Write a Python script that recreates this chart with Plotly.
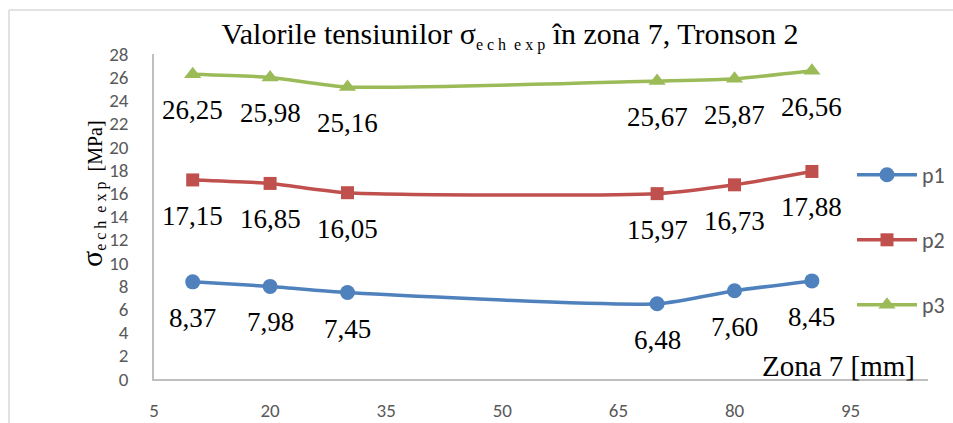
import plotly.graph_objects as go

x_mm = [10, 20, 30, 70, 80, 90]
p1 = [8.37, 7.98, 7.45, 6.48, 7.60, 8.45]
p2 = [17.15, 16.85, 16.05, 15.97, 16.73, 17.88]
p3 = [26.25, 25.98, 25.16, 25.67, 25.87, 26.56]
series_names = ["p1", "p2", "p3"]
series_colors = ["#4F81BD", "#C0504D", "#9BBB59"]
series_symbols = ["circle", "square", "triangle-up"]
x_ticks = [5, 20, 35, 50, 65, 80, 95]
y_ticks = list(range(0, 29, 2))

L, R, T, B = 154, 25, 54, 44
W, H = 953, 423
pw, ph = W - L - R, H - T - B

serif = "Liberation Serif, Times New Roman, serif"
sans = "Liberation Sans Narrow, Carlito, Liberation Sans, Arial, sans-serif"
sub_txt = "e&nbsp;c&nbsp;h&nbsp;&nbsp;e&nbsp;x&nbsp;p"

fig = go.Figure()
legend_ypx = [175, 240, 305]
for i, (name, vals) in enumerate(zip(series_names, [p1, p2, p3])):
    lg = "legend" if i == 0 else f"legend{i+1}"
    fig.add_trace(go.Scatter(
        x=x_mm, y=vals, name=name, mode="lines+markers",
        line=dict(color=series_colors[i], width=3.5, shape="spline", smoothing=0.6),
        marker=dict(symbol=series_symbols[i], size=15 if i != 1 else 13, color=series_colors[i]),
        legend=lg, cliponaxis=False,
    ))
    for xv, yv in zip(x_mm, vals):
        fig.add_annotation(x=xv, y=yv, text=f"{yv:.2f}".replace(".", ","), showarrow=False,
                           xanchor="center", yanchor="middle",
                           yshift=-36, font=dict(family=serif, size=27, color="#000000"))

legend_layouts = {}
for i, ypx in enumerate(legend_ypx):
    key = "legend" if i == 0 else f"legend{i+1}"
    legend_layouts[key] = dict(
        x=(852 - L) / pw, y=(H - B - ypx) / ph, xanchor="left", yanchor="middle",
        font=dict(family=sans, size=22, color="#595959"), bgcolor="rgba(0,0,0,0)",
        itemwidth=60,
    )

fig.update_layout(
    width=W, height=H, margin=dict(l=L, r=R, t=T, b=B, autoexpand=False),
    paper_bgcolor="white", plot_bgcolor="white",
    showlegend=True,
    title=dict(text=f"Valorile tensiunilor σ<sub><span style='font-size:16px'>{sub_txt}</span></sub> în zona 7, Tronson 2",
               x=510 / W, xref="container", xanchor="center", y=1 - 33 / H, yanchor="middle",
               font=dict(family=serif, size=30, color="#000000")),
    xaxis=dict(range=[5, 105], tickvals=x_ticks, ticktext=[str(v) for v in x_ticks],
               showgrid=False, zeroline=False, showline=True, linecolor="#BFBFBF", linewidth=1.5,
               ticks="", ticklabelstandoff=13, automargin=False,
               tickfont=dict(family=sans, size=19, color="#595959")),
    yaxis=dict(range=[0, 28], tickvals=y_ticks, ticktext=[str(v) for v in y_ticks],
               showgrid=False, zeroline=False, showline=True, linecolor="#BFBFBF", linewidth=1.5,
               ticks="", ticklabelstandoff=20, automargin=False,
               tickfont=dict(family=sans, size=19, color="#595959")),
    **legend_layouts,
)

fig.add_annotation(xref="paper", yref="paper", x=(838 - L) / pw, y=(H - B - 366) / ph,
                   xanchor="center", yanchor="middle",
                   text="Zona 7 [mm]", showarrow=False,
                   font=dict(family=serif, size=29, color="#000000"))
fig.add_annotation(xref="paper", yref="paper", x=(92 - L) / pw, y=(H - B - 194) / ph,
                   xanchor="center", yanchor="middle",
                   text=f"<span style='font-size:30px'>σ</span><sub><span style='font-size:16px'>{sub_txt}</span></sub><span style='font-size:20px'>&nbsp;&nbsp;[MPa]</span>",
                   textangle=-90, showarrow=False,
                   font=dict(family=serif, size=20, color="#000000"))

# outer chart frame (left and top edges visible)
fig.add_shape(type="line", xref="paper", yref="paper", x0=(9 - L) / pw, x1=(9 - L) / pw,
              y0=(H - B - 10) / ph, y1=(H - B - 440) / ph, line=dict(color="#D9D9D9", width=1.5))
fig.add_shape(type="line", xref="paper", yref="paper", x0=(9 - L) / pw, x1=(960 - L) / pw,
              y0=(H - B - 10) / ph, y1=(H - B - 10) / ph, line=dict(color="#D9D9D9", width=1.5))

fig.write_html("out.html")
